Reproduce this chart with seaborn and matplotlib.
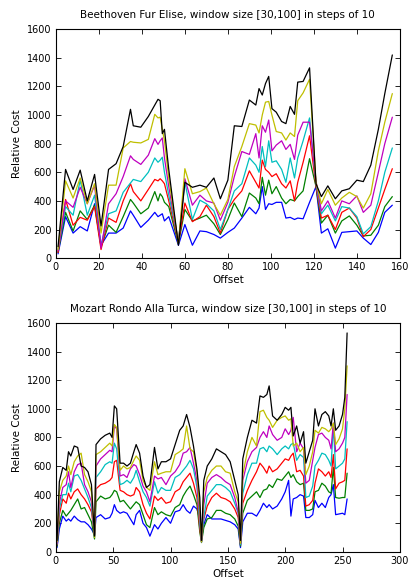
import numpy as np
import pandas as pd
import matplotlib
matplotlib.use("Agg")
import matplotlib.pyplot as plt
import seaborn as sns

windows = ["30", "40", "50", "60", "70", "80", "90"]
colors = ["#0000ff", "#008000", "#ff0000", "#00bfbf", "#bf00bf", "#bfbf00", "#000000"]

# ---------------- Beethoven Fur Elise ----------------
x_top = [1, 4.5, 8, 11.3, 14.6, 18, 21, 24.5, 28, 31.3,
         34.7, 36, 39.5, 43, 46, 47.5, 48.5, 49.5, 50.5, 52.5,
         57, 60, 63.5, 67, 70, 73.5, 76.5, 80, 83, 86.5,
         90, 93, 94.5, 96, 97.5, 99, 100.5, 102.5, 105, 107,
         109, 111, 112.5, 115, 118, 121, 123.5, 126.5, 130, 133,
         136.5, 140, 143, 146.5, 150, 153, 156.5]

top_b = [30, 290, 175, 220, 190, 380, 90, 175, 175, 210,
         330, 300, 215, 265, 320, 290, 300, 310, 260, 290,
         90, 235, 90, 190, 185, 165, 140, 180, 210, 280,
         355, 310, 350, 500, 340, 380, 375, 390, 390, 280,
         285, 270, 280, 275, 390, 500, 175, 205, 70, 180,
         185, 190, 140, 95, 180, 320, 370]
top_g = [40, 320, 190, 330, 270, 370, 80, 230, 180, 290,
         410, 385, 310, 350, 465, 400, 450, 430, 390, 360,
         100, 340, 260, 280, 300, 240, 165, 270, 385, 290,
         455, 420, 380, 565, 440, 545, 450, 500, 420, 380,
         410, 400, 430, 470, 695, 500, 245, 300, 175, 260,
         295, 230, 155, 160, 230, 360, 430]
top_r = [40, 410, 230, 285, 265, 360, 60, 280, 250, 400,
         520, 465, 400, 480, 550, 540, 555, 540, 520, 400,
         110, 385, 255, 290, 370, 290, 175, 340, 410, 470,
         610, 530, 490, 685, 620, 600, 570, 590, 520, 490,
         540, 400, 530, 670, 855, 500, 280, 300, 200, 320,
         350, 280, 150, 200, 350, 480, 625]
top_c = [60, 360, 300, 545, 300, 440, 90, 310, 330, 460,
         525, 550, 535, 600, 700, 670, 685, 705, 600, 440,
         120, 530, 270, 405, 380, 330, 200, 340, 470, 520,
         700, 650, 600, 780, 640, 820, 670, 680, 620, 530,
         700, 560, 700, 820, 980, 520, 310, 370, 260, 360,
         350, 290, 170, 220, 400, 600, 770]
top_m = [50, 400, 355, 495, 380, 510, 70, 380, 450, 570,
         715, 690, 655, 720, 835, 795, 820, 840, 700, 500,
         110, 555, 370, 440, 400, 385, 265, 390, 570, 745,
         725, 870, 700, 925, 880, 965, 750, 790, 820, 760,
         795, 690, 860, 950, 950, 540, 330, 400, 280, 400,
         380, 435, 320, 370, 600, 800, 985]
top_y = [60, 540, 420, 560, 380, 520, 175, 510, 510, 770,
         815, 810, 805, 830, 1005, 980, 985, 900, 820, 560,
         100, 625, 450, 465, 490, 380, 300, 410, 640, 780,
         940, 930, 875, 1000, 1090, 1095, 1000, 885, 875, 825,
         875, 850, 1100, 1155, 1250, 530, 380, 480, 370, 420,
         460, 430, 350, 450, 750, 950, 1150]
top_k = [80, 620, 480, 615, 400, 585, 225, 620, 660, 780,
         1040, 925, 915, 990, 1070, 1110, 1100, 870, 900, 620,
         90, 530, 495, 510, 495, 560, 415, 545, 925, 920,
         1105, 1070, 1185, 1140, 1220, 1270, 1045, 1020, 955, 940,
         1060, 1005, 1230, 1235, 1330, 520, 430, 505, 415, 470,
         485, 545, 535, 650, 900, 1150, 1420]

# ---------------- Mozart Rondo Alla Turca ----------------
x_bot = [1, 3, 6, 9, 11, 13, 16, 19, 22, 25,
         28, 31, 33.7, 35, 39, 43, 47, 49, 51, 53,
         56, 59, 62, 65, 68, 70, 73, 76, 79, 82,
         86, 89, 92, 96, 100, 104, 108, 111, 114, 117,
         120, 123, 125.5, 127, 129, 132, 136, 140, 144, 148,
         152, 156, 159, 161, 163, 167, 171, 175, 178, 181,
         184, 186, 189, 193, 197, 200, 203, 205, 207, 210,
         213, 216, 218, 221, 224, 226, 229, 232, 235, 238,
         240, 242, 244, 247, 250, 252, 254]

bot_k = [80, 490, 590, 570, 700, 670, 740, 730, 600, 590,
         560, 470, 110, 750, 790, 815, 830, 800, 1020, 1000,
         620, 620, 600, 620, 700, 750, 690, 530, 450, 470,
         730, 580, 630, 630, 650, 750, 850, 880, 960, 870,
         740, 580, 380, 80, 500, 600, 650, 720, 700, 680,
         630, 500, 400, 80, 650, 800, 920, 900, 1090, 1080,
         1100, 1160, 950, 920, 960, 1010, 990, 1010, 810, 880,
         760, 840, 620, 700, 780, 1000, 880, 960, 980, 950,
         880, 1000, 850, 880, 960, 1080, 1530]
bot_y = [70, 420, 500, 530, 600, 540, 630, 670, 690, 540,
         490, 420, 100, 680, 700, 730, 760, 740, 890, 870,
         570, 600, 580, 590, 640, 670, 640, 500, 450, 430,
         630, 540, 550, 560, 560, 680, 700, 720, 880, 720,
         700, 560, 300, 70, 420, 520, 570, 600, 600, 560,
         550, 420, 350, 60, 540, 700, 800, 740, 980, 990,
         940, 920, 870, 920, 940, 950, 920, 930, 740, 760,
         700, 730, 540, 600, 700, 850, 830, 870, 860, 840,
         860, 900, 750, 790, 860, 1000, 1300]
bot_m = [60, 340, 450, 470, 560, 450, 560, 610, 620, 470,
         420, 350, 110, 600, 650, 680, 710, 700, 880, 860,
         530, 540, 520, 580, 610, 600, 540, 460, 420, 350,
         530, 510, 520, 470, 530, 560, 610, 690, 700, 730,
         620, 500, 250, 70, 330, 480, 520, 540, 520, 490,
         470, 380, 280, 60, 500, 630, 700, 730, 800, 840,
         800, 880, 820, 780, 800, 860, 820, 850, 940, 700,
         760, 720, 480, 500, 640, 730, 820, 830, 800, 780,
         720, 900, 700, 720, 760, 800, 1100]
bot_c = [55, 300, 400, 400, 480, 420, 530, 540, 500, 440,
         380, 310, 110, 520, 560, 610, 630, 620, 760, 720,
         470, 480, 500, 480, 520, 570, 490, 420, 380, 320,
         490, 410, 450, 430, 430, 520, 540, 570, 600, 640,
         580, 450, 200, 70, 240, 390, 430, 470, 470, 450,
         420, 340, 270, 50, 410, 540, 620, 620, 720, 730,
         700, 740, 720, 680, 720, 740, 720, 750, 760, 640,
         680, 660, 380, 390, 460, 600, 640, 690, 680, 640,
         600, 880, 580, 600, 620, 650, 910]
bot_r = [50, 260, 370, 340, 410, 370, 420, 440, 400, 370,
         330, 280, 120, 440, 470, 480, 500, 520, 630, 640,
         430, 420, 400, 390, 400, 450, 420, 330, 270, 230,
         390, 360, 380, 340, 350, 420, 440, 490, 520, 550,
         480, 380, 160, 75, 230, 320, 380, 410, 380, 370,
         350, 300, 240, 50, 340, 430, 500, 560, 620, 590,
         550, 600, 560, 580, 620, 650, 640, 670, 690, 560,
         570, 530, 320, 330, 360, 480, 580, 560, 530, 560,
         520, 680, 440, 480, 490, 500, 720]
bot_g = [40, 200, 290, 250, 270, 290, 330, 370, 300, 310,
         260, 210, 90, 350, 390, 370, 380, 400, 430, 420,
         350, 360, 330, 300, 330, 350, 330, 260, 190, 170,
         310, 260, 280, 260, 250, 310, 330, 390, 430, 460,
         400, 330, 140, 65, 170, 230, 240, 290, 290, 270,
         260, 230, 180, 40, 270, 360, 390, 420, 380, 430,
         440, 470, 450, 510, 500, 530, 560, 520, 540, 490,
         470, 480, 290, 290, 300, 420, 430, 480, 460, 420,
         410, 590, 380, 375, 380, 380, 550]
bot_b = [30, 160, 250, 215, 230, 215, 250, 225, 210, 210,
         190, 160, 120, 240, 260, 230, 240, 270, 330, 290,
         270, 280, 270, 230, 190, 260, 290, 200, 170, 110,
         190, 160, 200, 240, 200, 280, 290, 330, 290, 270,
         320, 300, 230, 90, 190, 260, 230, 230, 230, 220,
         210, 190, 160, 30, 210, 270, 270, 250, 290, 340,
         310, 330, 300, 320, 370, 420, 500, 250, 370, 380,
         400, 390, 240, 240, 260, 360, 310, 340, 310, 380,
         400, 470, 260, 265, 270, 260, 370]


def long_frame(x, series):
    rows = []
    for w, vals in zip(windows, series):
        for xi, v in zip(x, vals):
            rows.append((xi, v, w))
    return pd.DataFrame(rows, columns=["Offset", "Relative Cost", "window"])


df_top = long_frame(x_top, [top_b, top_g, top_r, top_c, top_m, top_y, top_k])
df_bot = long_frame(x_bot, [bot_b, bot_g, bot_r, bot_c, bot_m, bot_y, bot_k])

sns.set_theme(style="white")
plt.rcParams.update({
    "font.family": ["DejaVu Sans"],
    "axes.edgecolor": "black",
    "axes.linewidth": 0.8,
    "xtick.direction": "in",
    "ytick.direction": "in",
    "xtick.top": True,
    "ytick.right": True,
    "xtick.bottom": True,
    "ytick.left": True,
    "xtick.major.size": 3.5,
    "ytick.major.size": 3.5,
    "xtick.major.width": 0.6,
    "ytick.major.width": 0.6,
    "xtick.color": "black",
    "ytick.color": "black",
    "axes.labelcolor": "black",
    "text.color": "black",
})

fig = plt.figure(figsize=(4.08, 5.84), dpi=100)
ax1 = fig.add_axes([0.137, 0.558, 0.843, 0.392])
ax2 = fig.add_axes([0.137, 0.055, 0.843, 0.392])

for ax, df, title, xmax, xstep in [
    (ax1, df_top, "Beethoven Fur Elise, window size [30,100] in steps of 10", 160, 20),
    (ax2, df_bot, "Mozart Rondo Alla Turca, window size [30,100] in steps of 10", 300, 50),
]:
    sns.lineplot(data=df, x="Offset", y="Relative Cost", hue="window",
                 palette=colors, estimator=None, sort=False, legend=False,
                 linewidth=0.9, ax=ax)
    ax.set_xlim(0, xmax)
    ax.set_ylim(0, 1600)
    ax.set_xticks(np.arange(0, xmax + 1, xstep))
    ax.set_yticks(np.arange(0, 1601, 200))
    ax.set_title(title, fontsize=7.5, pad=8)
    ax.set_xlabel("Offset", fontsize=7.5, labelpad=2)
    ax.set_ylabel("Relative Cost", fontsize=7.5, labelpad=4)
    ax.tick_params(labelsize=7, pad=3)
    for s in ax.spines.values():
        s.set_visible(True)
        s.set_color("black")

fig.savefig("out.png", dpi=100, facecolor="white")
